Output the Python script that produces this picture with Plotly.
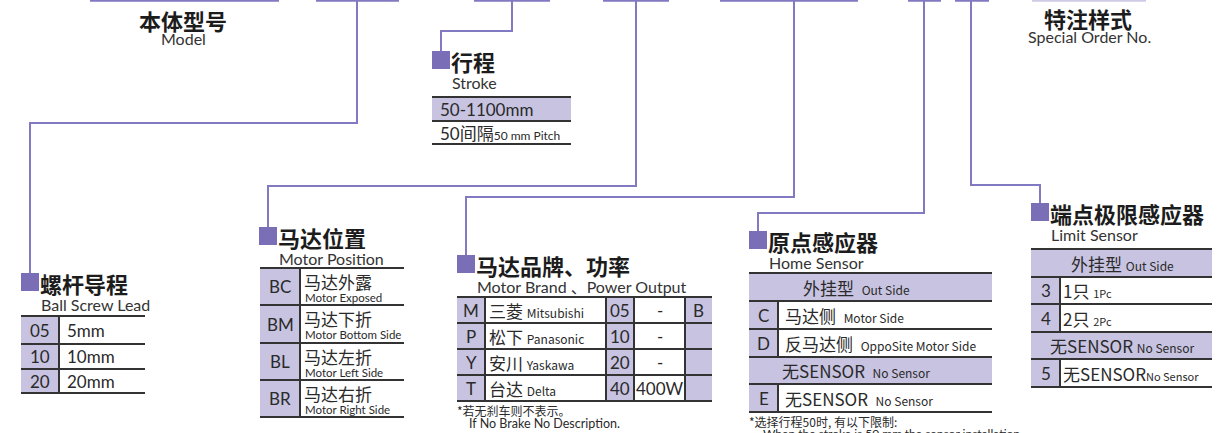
import plotly.graph_objects as go

W, H = 1226, 433

# ---------------- data (text content) ----------------
model_title = ["本体型号", "Model"]
special_title = ["特注样式", "Special Order No."]

lead_title = ["螺杆导程", "Ball Screw Lead"]
lead_codes = ["05", "10", "20"]
lead_values = ["5mm", "10mm", "20mm"]

stroke_title = ["行程", "Stroke"]
stroke_range = ["50-1100mm"]
stroke_pitch = ["50间隔", "50 mm Pitch"]

position_title = ["马达位置", "Motor Position"]
position_codes = ["BC", "BM", "BL", "BR"]
position_cn = ["马达外露", "马达下折", "马达左折", "马达右折"]
position_en = ["Motor Exposed", "Motor Bottom Side", "Motor Left Side", "Motor Right Side"]

brand_title = ["马达品牌、功率", "Motor Brand 、Power Output"]
brand_codes = ["M", "P", "Y", "T"]
brand_cn = ["三菱", "松下", "安川", "台达"]
brand_en = ["Mitsubishi", "Panasonic", "Yaskawa", "Delta"]
power_codes = ["05", "10", "20", "40"]
power_values = ["-", "-", "-", "400W"]
brake_codes = ["B", "", "", ""]
brand_note = ["*若无刹车则不表示。", "If No Brake No Description."]

home_title = ["原点感应器", "Home Sensor"]
home_codes = ["", "C", "D", "", "E"]
home_cn = ["外挂型", "马达侧", "反马达侧", "无SENSOR", "无SENSOR"]
home_en = ["Out Side", "Motor Side", "OppoSite Motor Side", "No Sensor", "No Sensor"]
home_note = ["*选择行程50时, 有以下限制:", "When the stroke is 50 mm,the sensor installation"]

limit_title = ["端点极限感应器", "Limit Sensor"]
limit_codes = ["", "3", "4", "", "5"]
limit_cn = ["外挂型", "1只", "2只", "无SENSOR", "无SENSOR"]
limit_en = ["Out Side", "1Pc", "2Pc", "No Sensor", "No Sensor"]

# ---------------- styles ----------------
LINK = "#8179c2"
MARK = "#7a6fb6"
SHADE = "#c7c3e0"
RULE = "#333333"
DARK = "#2a2a2a"
FONT = "Lato, Noto Sans CJK SC, sans-serif"
CJK = "Noto Sans CJK SC, Lato, sans-serif"
SUB = 16
EN = 12

shapes = []
annotations = []


def hline(x0, x1, y, color=RULE, width=2):
    shapes.append(dict(type="line", x0=x0, x1=x1, y0=y, y1=y, xref="x", yref="y",
                       line=dict(color=color, width=width), layer="above"))


def vline(x, y0, y1, color=RULE, width=2):
    shapes.append(dict(type="line", x0=x, x1=x, y0=y0, y1=y1, xref="x", yref="y",
                       line=dict(color=color, width=width), layer="above"))


def box(x0, y0, x1, y1, fill):
    # inserted first so that rules drawn later sit on top of the fills
    shapes.insert(0, dict(type="rect", x0=x0, x1=x1, y0=y0, y1=y1, xref="x", yref="y",
                          fillcolor=fill, line=dict(width=0), layer="above"))


def path(d, color=LINK, width=2):
    shapes.append(dict(type="path", path=d, xref="x", yref="y",
                       line=dict(color=color, width=width), layer="above"))


def text(x, y, s, size, anchor="left", color=DARK, family=FONT):
    annotations.append(dict(x=x, y=y, xref="x", yref="y", text=s, showarrow=False,
                            xanchor=anchor, yanchor="middle", borderpad=0,
                            font=dict(size=size, color=color, family=family)))


def small(s, size):
    return f'<span style="font-size:{size}px">{s}</span>'


def header(mx, my, title):
    box(mx, my, mx + 18, my + 18, MARK)
    text(mx + 18, my + 10, f"<b>{title[0]}</b>", 22, color="#1c1c1c", family=CJK)
    text(mx + 19, my + 31, title[1], SUB, color="#333333")


# ---------------- top code bars and connectors ----------------
top_bars = [(90, 279), (316, 399), (474, 550), (603, 669), (720, 858),
            (908, 941), (955, 989)]
for a, b in top_bars:
    hline(a, b, 0.8, color=LINK, width=2)
hline(1032, 1146, 0.8, color="#cfcbe6", width=2)

path("M357,0 V123 H30 V273")
path("M512,0 V31 H441 V51")
path("M636,0 V186 H268 V227")
path("M794,0 V197 H466 V255")
path("M924,0 V213 H758 V231")
path("M971,0 V185 H1040 V203")

# ---------------- headings at top ----------------
text(183, 20, f"<b>{model_title[0]}</b>", 22, anchor="center", color="#1c1c1c", family=CJK)
text(183, 38, model_title[1], SUB, anchor="center", color="#333333")
text(1088, 18, f"<b>{special_title[0]}</b>", 22, anchor="center", color="#1c1c1c", family=CJK)
text(1089, 36, special_title[1], SUB, anchor="center", color="#333333")

# ---------------- ball screw lead ----------------
header(21, 273, lead_title)
ly = [316, 344, 369, 393]
box(21, ly[0], 59, ly[-1], SHADE)
for y in ly:
    hline(21, 145, y)
vline(59, ly[0], ly[-1])
for i in range(len(lead_codes)):
    yc = (ly[i] + ly[i + 1]) / 2
    text(40, yc, lead_codes[i], 17, anchor="center")
    text(66, yc, lead_values[i], 17)

# ---------------- stroke ----------------
header(432, 51, stroke_title)
sy = [97, 121, 144]
box(432, sy[0], 571, sy[1], SHADE)
for y in sy:
    hline(432, 571, y)
text(439, 109, stroke_range[0], 17)
text(439, 133, stroke_pitch[0] + small(stroke_pitch[1], EN), 17)

# ---------------- motor position ----------------
header(259, 227, position_title)
py = [268, 305, 343, 380, 417]
box(260, py[0], 300, py[-1], SHADE)
for y in py:
    hline(260, 404, y)
vline(300, py[0], py[-1])
for i in range(len(position_codes)):
    yc = (py[i] + py[i + 1]) / 2
    text(280, yc, position_codes[i], 17, anchor="center")
    text(303, py[i] + 13, position_cn[i], 17, family=CJK)
    text(304, py[i] + 29, position_en[i], 11.5)

# ---------------- motor brand / power ----------------
header(457, 255, brand_title)
bx = [457, 485, 606, 634, 685, 712]
by = [297, 323, 349, 375, 401]
for c in (0, 2, 4):
    box(bx[c], by[0], bx[c + 1], by[-1], SHADE)
for y in by:
    hline(bx[0], bx[-1], y)
for x in bx[1:-1]:
    vline(x, by[0], by[-1])
for i in range(len(brand_codes)):
    yc = (by[i] + by[i + 1]) / 2
    text((bx[0] + bx[1]) / 2, yc, brand_codes[i], 17, anchor="center")
    text(488, yc, brand_cn[i] + " " + small(brand_en[i], EN), 17, family=CJK)
    text((bx[2] + bx[3]) / 2, yc, power_codes[i], 17, anchor="center")
    text((bx[3] + bx[4]) / 2, yc, power_values[i], 17, anchor="center")
    if brake_codes[i]:
        text((bx[4] + bx[5]) / 2, yc, brake_codes[i], 17, anchor="center")
text(456, 410, brand_note[0], 12, family=CJK)
text(468, 423, brand_note[1], 12.5)

# ---------------- home sensor ----------------
header(749, 231, home_title)
hx = [749, 778, 992]
hy = [273, 301, 329, 357, 384, 412]
for i in range(len(home_codes)):
    if home_codes[i]:
        box(hx[0], hy[i], hx[1], hy[i + 1], SHADE)
        vline(hx[1], hy[i], hy[i + 1])
    else:
        box(hx[0], hy[i], hx[2], hy[i + 1], SHADE)
for y in hy:
    hline(hx[0], hx[2], y)
for i in range(len(home_codes)):
    yc = (hy[i] + hy[i + 1]) / 2
    if home_codes[i]:
        text((hx[0] + hx[1]) / 2, yc, home_codes[i], 17, anchor="center")
        text(784, yc, home_cn[i] + "  " + small(home_en[i], EN), 17, family=CJK)
    else:
        text(856, yc, home_cn[i] + "  " + small(home_en[i], EN), 17, anchor="center", family=CJK)
text(748, 421, home_note[0], 12, family=CJK)
text(762, 433, home_note[1], 12)

# ---------------- limit sensor ----------------
header(1031, 203, limit_title)
mx = [1031, 1060, 1212]
my = [249, 277, 304, 332, 359, 387]
for i in range(len(limit_codes)):
    if limit_codes[i]:
        box(mx[0], my[i], mx[1], my[i + 1], SHADE)
        vline(mx[1], my[i], my[i + 1])
    else:
        box(mx[0], my[i], mx[2], my[i + 1], SHADE)
for y in my:
    hline(mx[0], mx[2], y)
for i in range(len(limit_codes)):
    yc = (my[i] + my[i + 1]) / 2
    if limit_codes[i]:
        text((mx[0] + mx[1]) / 2, yc, limit_codes[i], 17, anchor="center")
        sep = "" if limit_cn[i].startswith("无") else " "
        text(1062, yc, limit_cn[i] + sep + small(limit_en[i], 11), 17, family=CJK)
    else:
        text(1122, yc, limit_cn[i] + " " + small(limit_en[i], EN), 17, anchor="center", family=CJK)

fig = go.Figure()
fig.update_layout(
    width=W, height=H,
    margin=dict(l=0, r=0, t=0, b=0),
    paper_bgcolor="white", plot_bgcolor="white",
    xaxis=dict(range=[0, W], visible=False, fixedrange=True),
    yaxis=dict(range=[H, 0], visible=False, fixedrange=True),
    shapes=shapes, annotations=annotations, showlegend=False,
)
fig.write_html("out.html", config={"displayModeBar": False},
               post_script="document.body.style.margin='0';document.body.style.overflow='hidden';")
